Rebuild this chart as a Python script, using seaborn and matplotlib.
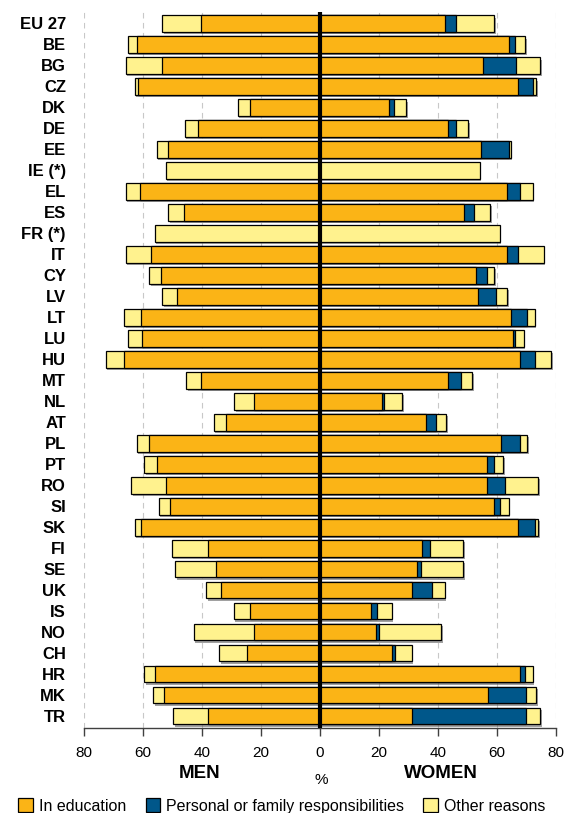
import matplotlib
matplotlib.use('Agg')
import matplotlib.pyplot as plt
import matplotlib.patheffects as pe
from matplotlib.patches import Patch
import pandas as pd
import seaborn as sns

# data (% , men on the left, women on the right)
countries = ['EU 27', 'BE', 'BG', 'CZ', 'DK', 'DE', 'EE', 'IE (*)', 'EL', 'ES',
             'FR (*)', 'IT', 'CY', 'LV', 'LT', 'LU', 'HU', 'MT', 'NL', 'AT',
             'PL', 'PT', 'RO', 'SI', 'SK', 'FI', 'SE', 'UK', 'IS', 'NO',
             'CH', 'HR', 'MK', 'TR']

men_education = [40.4, 62.1, 53.5, 61.6, 23.6, 41.5, 51.5, 0.0, 60.9, 46.0,
                 0.0, 57.2, 54.0, 48.4, 60.8, 60.2, 66.4, 40.3, 22.3, 31.8,
                 57.9, 55.4, 52.1, 50.9, 60.8, 37.9, 35.4, 33.5, 23.6, 22.3,
                 24.8, 55.9, 52.8, 37.9]
men_other = [13.1, 3.1, 12.4, 1.2, 4.3, 4.4, 3.9, 52.3, 5.0, 5.5,
             56.0, 8.7, 3.9, 5.1, 5.6, 5.0, 6.2, 5.0, 6.9, 4.2,
             4.2, 4.3, 11.9, 3.8, 2.0, 12.4, 13.6, 5.0, 5.7, 20.5,
             9.3, 3.8, 3.8, 11.8]

women_education = [42.3, 64.0, 55.3, 67.1, 23.5, 43.5, 54.7, 0.0, 63.4, 48.9,
                   0.0, 63.4, 52.8, 53.5, 64.6, 65.3, 67.8, 43.5, 21.1, 36.0,
                   61.5, 56.5, 56.5, 59.0, 67.1, 34.7, 32.8, 31.1, 17.4, 19.1,
                   24.3, 67.7, 57.1, 31.1]
women_family = [3.7, 2.0, 11.3, 5.1, 1.5, 2.5, 9.4, 0.0, 4.3, 3.3,
                0.0, 3.8, 3.7, 6.2, 5.7, 0.7, 5.0, 4.3, 0.7, 3.2,
                6.3, 2.6, 6.3, 1.9, 5.7, 2.7, 1.3, 6.8, 1.8, 0.8,
                1.1, 1.9, 12.6, 38.6]
women_other = [13.1, 3.6, 8.0, 1.1, 4.3, 4.3, 0.5, 54.1, 4.4, 5.5,
               60.9, 8.6, 2.6, 3.7, 2.5, 3.0, 5.5, 3.7, 6.1, 3.6,
               2.5, 3.0, 11.2, 3.1, 1.2, 11.1, 14.4, 4.4, 5.1, 21.1,
               5.7, 2.5, 3.6, 4.9]

ORANGE = '#FBB416'
BLUE = '#00578A'
PALE = '#FFF28E'

df = pd.DataFrame({'country': countries})
df['men_total'] = -(pd.Series(men_education) + pd.Series(men_other))
df['men_edu'] = -pd.Series(men_education)
df['women_total'] = pd.Series(women_education) + pd.Series(women_family) + pd.Series(women_other)
df['women_edu_fam'] = pd.Series(women_education) + pd.Series(women_family)
df['women_edu'] = pd.Series(women_education)

sns.set_theme(style='white')
plt.rcParams['font.family'] = ['Liberation Sans', 'DejaVu Sans']
plt.rcParams['text.color'] = 'black'
plt.rcParams['xtick.labelcolor'] = 'black'
plt.rcParams['ytick.labelcolor'] = 'black'

fig = plt.figure(figsize=(5.64, 8.13), dpi=100)
ax = fig.add_axes([84 / 564, 1 - 728 / 813, 472 / 564, 716 / 813])

bar_kw = dict(y='country', orient='h', width=0.8, edgecolor='black',
              linewidth=0.9, saturation=1, errorbar=None, ax=ax)

# outer segments first (with a soft shadow), inner segments drawn on top
sns.barplot(data=df, x='men_total', color=PALE, **bar_kw)
sns.barplot(data=df, x='women_total', color=PALE, **bar_kw)
shadow = [pe.SimplePatchShadow(offset=(1.2, -1.8), shadow_rgbFace='#555555', alpha=0.55), pe.Normal()]
for p in ax.patches:
    p.set_path_effects(shadow)

sns.barplot(data=df, x='women_edu_fam', color=BLUE, **bar_kw)
sns.barplot(data=df, x='men_edu', color=ORANGE, **bar_kw)
sns.barplot(data=df, x='women_edu', color=ORANGE, **bar_kw)

ax.axvline(0, color='black', lw=3, zorder=10)

ax.set_xlim(-80, 80)
ax.set_ylim(33.572, -0.548)
ticks = list(range(-80, 81, 20))
ax.set_xticks(ticks)
ax.set_xticklabels([str(abs(t)) for t in ticks])
ax.set_xlabel('')
ax.set_ylabel('')

ax.grid(True, axis='x', linestyle=(0, (5, 4)), color='#C8C8C8', lw=0.8)
ax.grid(False, axis='y')
ax.set_axisbelow(True)

for side in ['left', 'top', 'right']:
    ax.spines[side].set_visible(False)
ax.spines['bottom'].set_color('#404040')
ax.spines['bottom'].set_linewidth(1)

ax.tick_params(axis='x', direction='out', length=6, width=1, color='#404040',
               labelsize=11, pad=7, bottom=True, labelcolor='black')
ax.tick_params(axis='y', length=0, pad=13, labelsize=12, labelcolor='black')
for lbl in ax.get_yticklabels():
    lbl.set_fontweight('bold')

fig.text(200 / 564, 1 - 773 / 813, 'MEN', ha='center', va='center',
         fontsize=13.5, fontweight='bold', color='black')
fig.text(441 / 564, 1 - 773 / 813, 'WOMEN', ha='center', va='center',
         fontsize=13.5, fontweight='bold', color='black')
fig.text(321 / 564, 1 - 780 / 813, '%', ha='center', va='center', fontsize=11,
         color='black')

handles = [Patch(facecolor=ORANGE, edgecolor='black', lw=0.9),
           Patch(facecolor=BLUE, edgecolor='black', lw=0.9),
           Patch(facecolor=PALE, edgecolor='black', lw=0.9)]
fig.legend(handles, ['In education', 'Personal or family responsibilities', 'Other reasons'],
           loc='center', bbox_to_anchor=(0.5, 1 - 806 / 813), ncol=3, frameon=False,
           fontsize=11.5, handlelength=0.9, handleheight=0.9, handletextpad=0.4,
           columnspacing=1.2, borderaxespad=0, borderpad=0, labelcolor='black')

fig.savefig('out.png', dpi=100)
